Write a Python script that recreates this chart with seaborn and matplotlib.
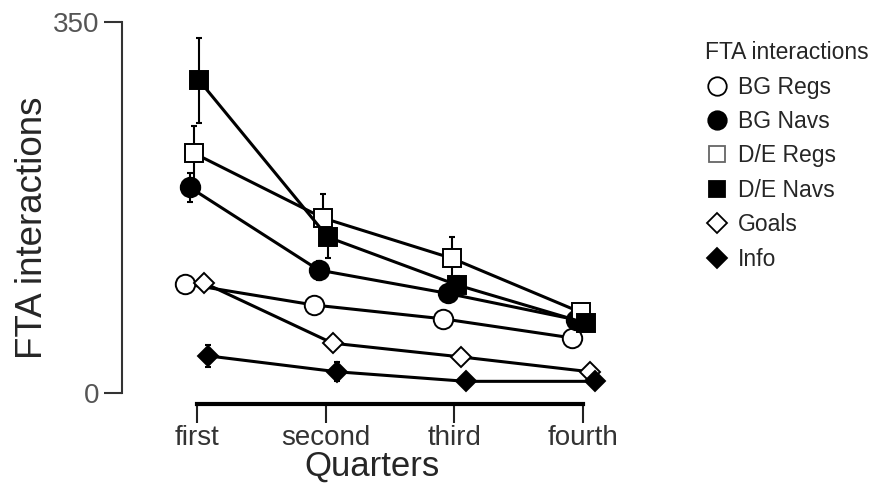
import matplotlib
matplotlib.use("Agg")
import matplotlib.pyplot as plt
import seaborn as sns
import pandas as pd
import numpy as np
from matplotlib.lines import Line2D

sns.set_theme(style="white")
plt.rcParams['font.family'] = ['Liberation Sans', 'DejaVu Sans']

# data
quarters = ["first", "second", "third", "fourth"]
series_names = ["BG Regs", "BG Navs", "D/E Regs", "D/E Navs", "Goals", "Info"]

bg_regs = [103, 83, 70, 52]
bg_navs = [194, 116, 94, 69]
de_regs = [226, 165, 127, 76]
de_navs = [295, 147, 102, 66]
goals = [104, 47, 34, 20]
info = [35, 20, 11, 11]

bg_regs_err = [4, 4, 4, 6]
bg_navs_err = [14, 9, 5, 4]
de_regs_err = [26, 23, 20, 6]
de_navs_err = [40, 20, 8, 5]
goals_err = [3, 3, 3, 3]
info_err = [10, 9, 5, 3]

values = [bg_regs, bg_navs, de_regs, de_navs, goals, info]
errors = [bg_regs_err, bg_navs_err, de_regs_err, de_navs_err, goals_err, info_err]

# marker style per series: (marker, face, size)
styles = [("o", "white", 14), ("o", "black", 14), ("s", "white", 12.5),
          ("s", "black", 12.5), ("D", "white", 10.5), ("D", "black", 10.5)]

fig = plt.figure(figsize=(8.75, 4.88), dpi=100)
ax = fig.add_axes([122 / 875, 1 - 393 / 488, 500 / 875, (393 - 22) / 488])

x = np.arange(len(quarters))
for i, name in enumerate(series_names):
    off = (i - 2.5) * 0.036
    df = pd.DataFrame({"q": x + off, "val": values[i]})
    mk, face, ms = styles[i]
    ax.errorbar(df["q"], df["val"], yerr=errors[i], fmt="none", ecolor="black",
                elinewidth=1.5, capsize=2, capthick=1.5, zorder=2 + i * 0.1, clip_on=False)
    sns.lineplot(data=df, x="q", y="val", ax=ax, color="black", linewidth=2.2,
                 marker=mk, markersize=ms, markerfacecolor=face,
                 markeredgecolor="black", markeredgewidth=1.4, zorder=3 + i * 0.1,
                 clip_on=False)

ax.set_xlim(-0.58, 3.3)
ax.set_ylim(0, 350)
ax.set_yticks([0, 350])
ax.set_xticks(x)
ax.set_xticklabels(quarters)

for s in ["top", "right"]:
    ax.spines[s].set_visible(False)
ax.spines["left"].set_color("#333333")
ax.spines["left"].set_linewidth(1.5)
ax.spines["bottom"].set_color("black")
ax.spines["bottom"].set_linewidth(3)
ax.spines["bottom"].set_bounds(0, 3)
ax.spines["bottom"].set_position(("outward", 8))

ax.tick_params(axis="y", left=True, length=13, width=1.5, color="#333333",
               labelsize=20, labelcolor="#555555", pad=3)
ax.tick_params(axis="x", bottom=True, length=14, width=1.5, color="#222222",
               labelsize=20, labelcolor="#333333", pad=1)

ax.set_xlabel("Quarters", fontsize=25, labelpad=-1)
ax.set_ylabel("FTA interactions", fontsize=26.5)
ax.yaxis.set_label_coords(-0.143, 0.445)

edge_cols = ["black", "black", "#666666", "black", "black", "black"]
handles = [Line2D([], [], linestyle="none", marker=m, markersize=ms * 0.95,
                  markerfacecolor=f, markeredgecolor=ec, markeredgewidth=1.3)
           for (m, f, ms), ec in zip(styles, edge_cols)]
leg = fig.legend(handles, series_names, title="FTA interactions", loc="upper left",
                 bbox_to_anchor=(694 / 875, 1 - 30 / 488), frameon=False,
                 fontsize=16.5, title_fontsize=16.5, handlelength=1.0, handletextpad=0.4,
                 labelspacing=0.5, borderpad=0)
leg._legend_box.align = "left"
leg._legend_box.sep = 8

fig.savefig("out.png", dpi=100)
